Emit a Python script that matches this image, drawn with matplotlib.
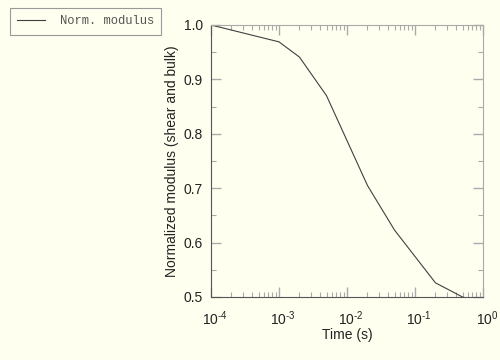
import matplotlib
matplotlib.use("Agg")
import matplotlib.pyplot as plt
import matplotlib.transforms as mtransforms
from matplotlib.ticker import LogLocator, MultipleLocator, NullFormatter, FuncFormatter
import math

time_s = [1e-4, 1e-3, 2e-3, 5e-3, 2e-2, 5e-2, 2e-1, 5e-1, 1.0]
norm_modulus = [1.0, 0.969, 0.941, 0.870, 0.705, 0.623, 0.526, 0.500, 0.49]
legend_label = "Norm. modulus"
x_label = "Time (s)"
y_label = "Normalized modulus (shear and bulk)"

plt.rcParams['font.family'] = ['Liberation Sans', 'DejaVu Sans']
plt.rcParams['mathtext.fontset'] = 'custom'
plt.rcParams['mathtext.rm'] = 'Liberation Sans'
plt.rcParams['mathtext.it'] = 'Liberation Sans:italic'
plt.rcParams['mathtext.bf'] = 'Liberation Sans:bold'

bg = '#FFFFF0'
fig = plt.figure(figsize=(5, 3.6), dpi=100, facecolor=bg)
ax = fig.add_axes([211/500, 1-297/360, (483-211)/500, (297-25)/360], facecolor=bg)

line, = ax.plot(time_s, norm_modulus, color='#404040', lw=0.8, label=legend_label)
ax.set_xscale('log')
ax.set_xlim(1e-4, 1.0)
ax.set_ylim(0.5, 1.0)
ax.xaxis.set_major_locator(LogLocator(base=10, numticks=10))
ax.xaxis.set_minor_locator(LogLocator(base=10, subs=range(2, 10), numticks=20))
ax.xaxis.set_minor_formatter(NullFormatter())

def fmt_exp(v, pos):
    e = int(round(math.log10(v)))
    return r'$\mathregular{10^{\text{%d}}}$' % e

ax.xaxis.set_major_formatter(FuncFormatter(fmt_exp))
ax.yaxis.set_major_locator(MultipleLocator(0.1))
ax.yaxis.set_minor_locator(MultipleLocator(0.05))
ax.yaxis.set_major_formatter(matplotlib.ticker.FormatStrFormatter('%.1f'))

for s in ['left', 'bottom']:
    ax.spines[s].set_color('#555555')
    ax.spines[s].set_linewidth(0.8)
for s in ['top', 'right']:
    ax.spines[s].set_color('#aaaaaa')
    ax.spines[s].set_linewidth(0.8)

ax.tick_params(which='both', direction='in', top=True, right=True, color='#aaaaaa', labelsize=10, labelcolor='#222222')
ax.tick_params(which='major', length=7, width=1.0)
ax.tick_params(which='minor', length=3.5, width=0.8)
ax.tick_params(axis='x', which='major', pad=9)
ax.tick_params(axis='y', which='major', pad=6)

ax.set_xlabel(x_label, fontsize=10, color='#222222', labelpad=0)
ax.set_ylabel(y_label, fontsize=10, color='#222222', labelpad=3)

leg = fig.legend(handles=[line], loc='upper left', bbox_to_anchor=(10/500, 1-8/360),
                 borderaxespad=0, fancybox=False, frameon=True, edgecolor='#999999',
                 facecolor=bg, framealpha=1, handlelength=2.3, handletextpad=1.2,
                 borderpad=0.6, prop={'family': 'Liberation Mono', 'size': 8.7})
leg.get_frame().set_linewidth(0.8)
for t in leg.get_texts():
    t.set_color('#555555')

fig.canvas.draw()
offset = mtransforms.ScaledTranslation(4/100, 0, fig.dpi_scale_trans)
for tick in ax.xaxis.get_major_ticks():
    tick.label1.set_transform(tick.label1.get_transform() + offset)

fig.savefig('out.png', dpi=100, facecolor=bg)
